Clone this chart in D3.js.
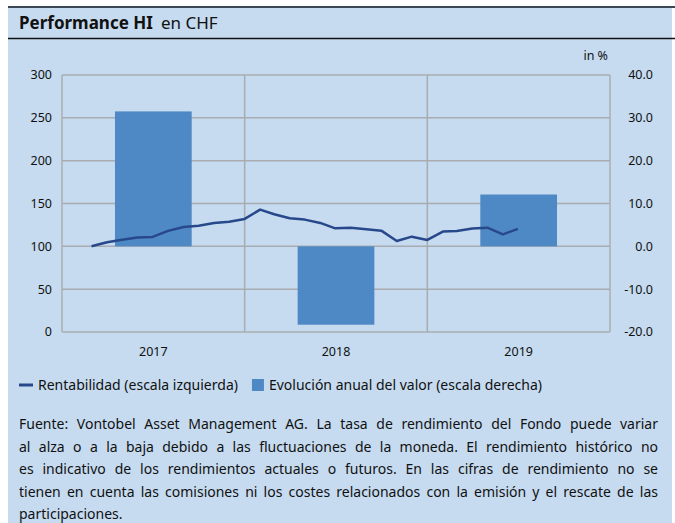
<!DOCTYPE html>
<html>
<head>
<meta charset="utf-8">
<script src="https://cdn.jsdelivr.net/npm/d3@7"></script>
<style>
  body { margin: 0; background: #fff; }
  svg text { font-family: "Noto Sans", sans-serif; fill: #111; }
</style>
</head>
<body>
<div id="chart"></div>
<script>
// Chart data
var years = ['2017', '2018', '2019'];
var annualChange = [31.5, -18.3, 12.1];
var perfMonths = [
  '2017-02', '2017-03', '2017-04', '2017-05', '2017-06', '2017-07', '2017-08',
  '2017-09', '2017-10', '2017-11', '2017-12', '2018-01', '2018-02', '2018-03',
  '2018-04', '2018-05', '2018-06', '2018-07', '2018-08', '2018-09', '2018-10',
  '2018-11', '2018-12', '2019-01', '2019-02', '2019-03', '2019-04', '2019-05',
  '2019-06'
];
var perfValues = [
  100.0, 104.8, 107.8, 110.2, 111.0, 118.0, 122.6,
  124.0, 127.3, 128.8, 132.0, 142.9, 137.4, 132.7,
  131.2, 127.3, 121.0, 121.8, 119.9, 118.3, 106.3,
  111.3, 107.5, 117.2, 118.0, 120.7, 121.8, 114.0,
  120.3
];
var leftTicks = [0, 50, 100, 150, 200, 250, 300];
var rightTicks = [-20, -10, 0, 10, 20, 30, 40];
var legendLabels = ['Rentabilidad (escala izquierda)', 'Evolución anual del valor (escala derecha)'];
var footerLines = [
  'Fuente: Vontobel Asset Management AG. La tasa de rendimiento del Fondo puede variar',
  'al alza o a la baja debido a las fluctuaciones de la moneda. El rendimiento histórico no',
  'es indicativo de los rendimientos actuales o futuros. En las cifras de rendimiento no se',
  'tienen en cuenta las comisiones ni los costes relacionados con la emisión y el rescate de las',
  'participaciones.'
];

var width = 675;
var height = 523;
var margin = { top: 75, right: 65, bottom: 191, left: 62 };
var bg = '#c6dbf0';
var barColor = '#4f89c5';
var lineColor = '#27488b';
var gridColor = '#a8acb0';

var svg = d3.select('#chart')
  .append('svg')
  .attr('width', width)
  .attr('height', height);

// Panel and title bar
svg.append('rect')
  .attr('x', 8).attr('y', 7)
  .attr('width', 664).attr('height', height - 7)
  .attr('fill', bg);
svg.append('line')
  .attr('x1', 8).attr('x2', width)
  .attr('y1', 7).attr('y2', 7)
  .attr('stroke', '#3b4754').attr('stroke-width', 2);
svg.append('line')
  .attr('x1', 8).attr('x2', width)
  .attr('y1', 38.5).attr('y2', 38.5)
  .attr('stroke', '#111').attr('stroke-width', 1.5);

var title = svg.append('text')
  .attr('x', 19).attr('y', 29)
  .style('font-size', '17px');
title.append('tspan').attr('font-weight', 'bold').text('Performance HI');
title.append('tspan').attr('dx', 8).text('en CHF');

// Scales
var x0 = margin.left;
var x1 = width - margin.right;
var y0 = height - margin.bottom;
var y1 = margin.top;

var band = d3.scaleBand().domain(years).range([x0, x1]).padding(0);
var xTime = d3.scaleTime()
  .domain([new Date(2017, 0, 1), new Date(2020, 0, 1)])
  .range([x0, x1]);
var yLeft = d3.scaleLinear().domain([0, 300]).range([y0, y1]);
var yRight = d3.scaleLinear().domain([-20, 40]).range([y0, y1]);

var parseMonth = d3.timeParse('%Y-%m');
var monthEnd = function (s) {
  return d3.timeMonth.offset(parseMonth(s), 1);
};
var pctFormat = function (d) {
  return d3.format('.1f')(d).replace('\u2212', '-');
};

// Grid
var g = svg.append('g');
g.selectAll('.hgrid')
  .data(leftTicks)
  .enter()
  .append('line')
  .attr('x1', x0).attr('x2', x1)
  .attr('y1', function (d) { return yLeft(d); })
  .attr('y2', function (d) { return yLeft(d); })
  .attr('stroke', gridColor).attr('stroke-width', 1.5);

var vlines = [x0].concat(years.map(function (d) { return band(d) + band.bandwidth(); }));
g.selectAll('.vgrid')
  .data(vlines)
  .enter()
  .append('line')
  .attr('x1', function (d) { return d; })
  .attr('x2', function (d) { return d; })
  .attr('y1', y1).attr('y2', y0)
  .attr('stroke', gridColor).attr('stroke-width', 1.5);

// Bars (right scale)
var barRatio = 0.42;
g.selectAll('.bar')
  .data(annualChange)
  .enter()
  .append('rect')
  .attr('x', function (d, i) {
    return band(years[i]) + band.bandwidth() * (1 - barRatio) / 2;
  })
  .attr('width', band.bandwidth() * barRatio)
  .attr('y', function (d) { return yRight(Math.max(0, d)); })
  .attr('height', function (d) { return Math.abs(yRight(d) - yRight(0)); })
  .attr('fill', barColor);

// Line (left scale)
var line = d3.line()
  .x(function (d, i) { return xTime(monthEnd(perfMonths[i])); })
  .y(function (d) { return yLeft(d); });
g.append('path')
  .datum(perfValues)
  .attr('d', line)
  .attr('fill', 'none')
  .attr('stroke', lineColor)
  .attr('stroke-width', 2.5)
  .attr('stroke-linejoin', 'round');

// Axes labels
g.selectAll('.ltick')
  .data(leftTicks)
  .enter()
  .append('text')
  .attr('x', 52)
  .attr('y', function (d) { return yLeft(d); })
  .attr('dy', '0.35em')
  .attr('text-anchor', 'end')
  .style('font-size', '12.5px')
  .text(function (d) { return d; });

g.selectAll('.rtick')
  .data(rightTicks)
  .enter()
  .append('text')
  .attr('x', 653)
  .attr('y', function (d) { return yRight(d); })
  .attr('dy', '0.35em')
  .attr('text-anchor', 'end')
  .style('font-size', '12.5px')
  .text(pctFormat);

g.append('text')
  .attr('x', 608).attr('y', 60)
  .attr('text-anchor', 'end')
  .style('font-size', '12.5px')
  .text('in %');

g.selectAll('.xtick')
  .data(years)
  .enter()
  .append('text')
  .attr('x', function (d) { return band(d) + band.bandwidth() / 2; })
  .attr('y', 356)
  .attr('text-anchor', 'middle')
  .style('font-size', '12.5px')
  .text(function (d) { return d; });

// Legend
var legendY = 385;
svg.append('line')
  .attr('x1', 19).attr('x2', 33)
  .attr('y1', legendY).attr('y2', legendY)
  .attr('stroke', lineColor).attr('stroke-width', 3);
var lt1 = svg.append('text')
  .attr('x', 38).attr('y', legendY).attr('dy', '0.35em')
  .style('font-size', '14px')
  .text(legendLabels[0]);
var sqX = 38 + lt1.node().getComputedTextLength() + 14;
svg.append('rect')
  .attr('x', sqX).attr('y', legendY - 6)
  .attr('width', 12).attr('height', 12)
  .attr('fill', barColor);
svg.append('text')
  .attr('x', sqX + 17).attr('y', legendY).attr('dy', '0.35em')
  .style('font-size', '14px')
  .text(legendLabels[1]);

// Footer, justified line by line
var footLeft = 19;
var footWidth = 639;
footerLines.forEach(function (txt, li) {
  var t = svg.append('text')
    .attr('y', 429 + li * 22.6)
    .style('font-size', '14px');
  var words = txt.split(' ');
  var spans = words.map(function (w) {
    return t.append('tspan').text(w);
  });
  var lens = spans.map(function (s) { return s.node().getComputedTextLength(); });
  var total = d3.sum(lens);
  var last = li === footerLines.length - 1;
  var gap = last ? 4 : (footWidth - total) / (words.length - 1);
  var cx = footLeft;
  spans.forEach(function (s, i) {
    s.attr('x', cx);
    cx += lens[i] + gap;
  });
});
</script>
</body>
</html>
